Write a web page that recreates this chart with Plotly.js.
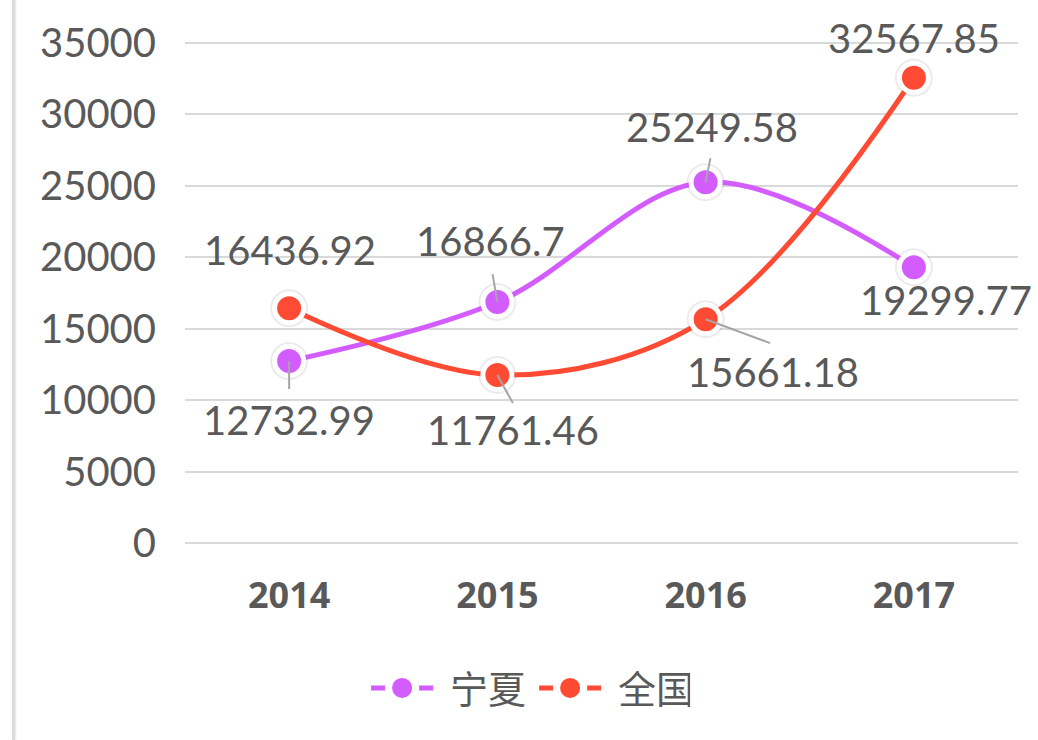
<!DOCTYPE html>
<html>
<head>
<meta charset="utf-8">
<script src="https://cdn.plot.ly/plotly-3.0.1.min.js"></script>
<style>
html,body{margin:0;padding:0;background:#fff;}
#wrap{position:relative;width:1038px;height:740px;}
#chart{width:1038px;height:740px;}
#edge{position:absolute;left:12px;top:0;width:3px;height:740px;background:#dcdcdc;box-shadow:1px 0 2px rgba(0,0,0,0.10);z-index:10;}
#err{position:absolute;left:20px;top:0;color:red;font-size:12px;z-index:11;}
</style>
</head>
<body>
<div id="wrap"><div id="chart"></div><div id="edge"></div><div id="err"></div></div>
<script>
const years = ['2014', '2015', '2016', '2017'];
const ningxia = [12732.99, 16866.7, 25249.58, 19299.77];
const national = [16436.92, 11761.46, 15661.18, 32567.85];
const seriesNames = ['宁夏', '全国'];
const yTicks = [0, 5000, 10000, 15000, 20000, 25000, 30000, 35000];

const purple = '#D35CFF';
const red = '#FF4B33';
const txt = '#595959';
const numFont = 'Lato, "DejaVu Sans", sans-serif';

function shadowTrace(y) {
  return {
    x: years, y: y, type: 'scatter', mode: 'markers',
    marker: {color: 'rgba(0,0,0,0.08)', size: 38, line: {width: 0}},
    showlegend: false, hoverinfo: 'skip'
  };
}
function mainTrace(y, color, name) {
  return {
    x: years, y: y, name: name, type: 'scatter', mode: 'lines+markers',
    line: {color: color, width: 5, shape: 'spline', smoothing: 1},
    marker: {color: color, size: 29, line: {color: '#ffffff', width: 5}},
    showlegend: false, hoverinfo: 'skip'
  };
}
function legendTrace(color, name) {
  return {
    x: [null], y: [null], name: name, type: 'scatter', mode: 'lines+markers',
    line: {color: color, width: 5, dash: '0px,12px,14px,34px,14px,12px'},
    marker: {color: color, size: 16, line: {color: color, width: 4}},
    showlegend: true
  };
}

// label offsets (style only): text [dx, dy], leader end [lx, ly] or null
const nxText = [[0, 59], [-7, -61], [6, -55], [32, 33]];
const nxLead = [[0, 29], [-5, -29], [5, -25], null];
const cnText = [[1, -58], [16, 55], [67, 53], [0, -40]];
const cnLead = [null, [16, 29], [65, 24], null];

function labels(vals, tOff, lOff) {
  const out = [];
  vals.forEach((v, i) => {
    const l = lOff[i];
    if (l) {
      out.push({x: i, y: v, xref: 'x', yref: 'y', text: ' ', font: {size: 1},
        showarrow: true, ax: l[0], ay: l[1], arrowhead: 0, arrowwidth: 2,
        arrowcolor: '#a6a6a6', standoff: 0, borderpad: 0});
    }
    out.push({x: i, y: v, xref: 'x', yref: 'y', text: String(v),
      font: {family: numFont, size: 40, color: txt},
      showarrow: false, xshift: tOff[i][0], yshift: -tOff[i][1]});
  });
  return out;
}

const data = [
  shadowTrace(ningxia),
  shadowTrace(national),
  mainTrace(ningxia, purple, seriesNames[0]),
  mainTrace(national, red, seriesNames[1]),
  legendTrace(purple, seriesNames[0]),
  legendTrace(red, seriesNames[1])
];

const layout = {
  width: 1038, height: 740,
  margin: {l: 185, r: 20, t: 23, b: 177},
  paper_bgcolor: '#ffffff', plot_bgcolor: '#ffffff',
  xaxis: {
    type: 'category', range: [-0.5, 3.5], showgrid: false, zeroline: false, showline: false,
    ticks: '', ticklabelstandoff: 8,
    tickfont: {family: '"Open Sans", "Liberation Sans", sans-serif', size: 36, color: txt, weight: 'bold'}
  },
  yaxis: {
    range: [-1400, 36400], tickvals: yTicks, ticktext: yTicks.map(String),
    showgrid: true, gridcolor: '#d9d9d9', gridwidth: 2, zeroline: false, showline: false,
    ticks: '', ticklabelstandoff: 28,
    tickfont: {family: numFont, size: 40, color: txt}
  },
  showlegend: true,
  legend: {
    orientation: 'h', xref: 'container', yref: 'container', x: 0.503, y: 0.07,
    xanchor: 'center', yanchor: 'middle',
    font: {family: '"Noto Sans CJK SC", sans-serif', size: 38, color: txt},
    itemsizing: 'trace', itemwidth: 86, entrywidth: 67, tracegroupgap: 0
  },
  annotations: labels(ningxia, nxText, nxLead).concat(labels(national, cnText, cnLead))
};

try {
  Plotly.newPlot('chart', data, layout, {displayModeBar: false, staticPlot: true})
    .catch(e => { document.getElementById('err').textContent = String(e); });
} catch (e) {
  document.getElementById('err').textContent = String(e);
}
</script>
</body>
</html>
